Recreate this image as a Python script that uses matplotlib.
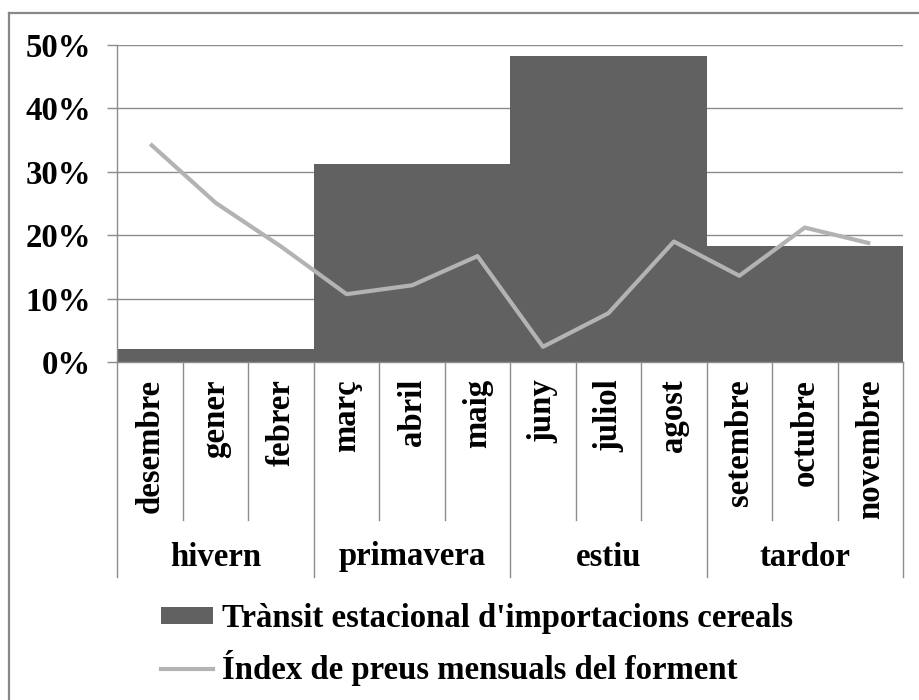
import matplotlib.pyplot as plt
from matplotlib.lines import Line2D
from matplotlib.patches import Patch
from matplotlib.ticker import PercentFormatter

plt.rcParams['font.family'] = ['Liberation Serif', 'DejaVu Serif']
plt.rcParams['font.weight'] = 'bold'

# monthly wheat price index and seasonal grain import traffic
months = ['desembre', 'gener', 'febrer', 'març', 'abril', 'maig',
          'juny', 'juliol', 'agost', 'setembre', 'octubre', 'novembre']
seasons = ['hivern', 'primavera', 'estiu', 'tardor']
season_traffic = [0.020, 0.313, 0.483, 0.183]
price_index = [0.344, 0.251, 0.182, 0.107, 0.121, 0.167,
               0.024, 0.077, 0.190, 0.136, 0.212, 0.187]

bar_label = "Trànsit estacional d'importacions cereals"
line_label = "Índex de preus mensuals del forment"

bar_col = '#616161'
line_col = '#b3b3b3'
grid_col = '#8c8c8c'
fs = 23.6

fig = plt.figure(figsize=(9.19, 7.0), dpi=100)
ax = fig.add_axes([117.5 / 919, 1 - 362 / 700, 785.5 / 919, 317 / 700])

season_x = [3 * i + 1.5 for i in range(len(seasons))]
month_x = [i + 0.5 for i in range(len(months))]

ax.bar(season_x, season_traffic, width=3, color=bar_col, zorder=2)
ax.plot(month_x, price_index, color=line_col, lw=3.0, zorder=3,
        solid_capstyle='butt')

ax.set_xlim(0, 12)
ax.set_ylim(0, 0.5)
ax.set_yticks([0, 0.1, 0.2, 0.3, 0.4, 0.5])
ax.yaxis.set_major_formatter(PercentFormatter(1.0, decimals=0))
ax.grid(axis='y', color=grid_col, lw=1.0, zorder=0)
ax.tick_params(axis='y', length=7.2, width=1.0, color=grid_col,
               labelsize=fs, pad=12)
ax.set_xticks([])
for s in ['top', 'right']:
    ax.spines[s].set_visible(False)
for s in ['left', 'bottom']:
    ax.spines[s].set_color(grid_col)
    ax.spines[s].set_linewidth(1.0)

# two-level category axis drawn below the plot
trans = ax.get_xaxis_transform()
month_bottom = -(520 - 362) / 317
season_bottom = -(577 - 362) / 317
for i in range(len(months) + 1):
    yb = season_bottom if i % 3 == 0 else month_bottom
    ax.plot([i, i], [0, yb], color=grid_col, lw=1.0, transform=trans,
            clip_on=False)
for x, name in zip(month_x, months):
    ax.text(x, -(379 - 362) / 317, name, rotation=90, ha='center', va='top',
            fontsize=fs, transform=trans)
for x, name in zip(season_x, seasons):
    ax.text(x, -(557 - 362) / 317, name, ha='center', va='center',
            fontsize=fs, transform=trans)

handles = [Patch(facecolor=bar_col, edgecolor='none'),
           Line2D([], [], color=line_col, lw=3.0)]
fig.legend(handles, [bar_label, line_label], loc='upper left',
           bbox_to_anchor=(161 / 919, 1 - 603 / 700), frameon=False,
           fontsize=fs, handlelength=1.6, handletextpad=0.25,
           labelspacing=0.5, borderpad=0, borderaxespad=0,
           handleheight=0.45)

# outer chart frame (only top and left edges are in view)
fig.add_artist(Line2D([9 / 919, 9 / 919], [0, 1 - 13 / 700],
                      color='#888888', lw=1.6))
fig.add_artist(Line2D([9 / 919, 1], [1 - 13 / 700, 1 - 13 / 700],
                      color='#888888', lw=1.6))

fig.savefig('out.png', dpi=100)
